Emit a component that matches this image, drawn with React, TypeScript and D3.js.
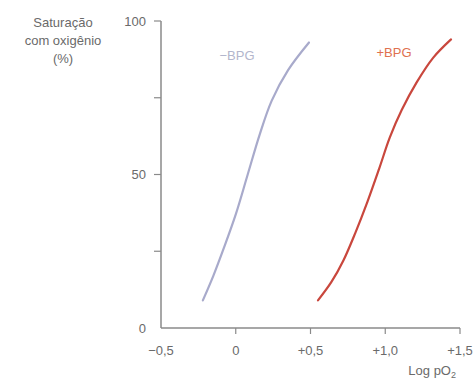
import React from 'react';
import * as d3 from 'd3';

const width = 473;
const height = 383;

// log pO2 vs % saturation
const noBpgLog = [-0.22, -0.15, -0.08, 0.0, 0.08, 0.16, 0.24, 0.35, 0.49];
const noBpgSat = [9, 17, 26, 37, 50, 63, 74, 84, 93];
const bpgLog = [0.55, 0.64, 0.72, 0.8, 0.88, 0.96, 1.03, 1.11, 1.21, 1.32, 1.44];
const bpgSat = [9, 15, 22, 31, 41, 52, 62, 71, 80, 88, 94];

const xTicks = [-0.5, 0, 0.5, 1.0, 1.5];
const xTickLabels = ['\u22120,5', '0', '+0,5', '+1,0', '+1,5'];
const yTicks = [0, 25, 50, 75, 100];
const yTickLabels = ['0', '', '50', '', '100'];
const yTitle = ['Saturação', 'com oxigênio', '(%)'];

const font = '"Liberation Sans", Arial, sans-serif';

export default function App() {
  const x = d3.scaleLinear().domain([-0.5, 1.5]).range([161, 460]);
  const y = d3.scaleLinear().domain([0, 100]).range([328, 21]);

  const line = d3.line<[number, number]>()
    .x(d => x(d[0]))
    .y(d => y(d[1]))
    .curve(d3.curveCatmullRom.alpha(0.5));

  const blue = noBpgLog.map((v, i) => [v, noBpgSat[i]] as [number, number]);
  const red = bpgLog.map((v, i) => [v, bpgSat[i]] as [number, number]);

  return (
    <svg width={width} height={height} style={{ position: 'absolute', left: 0, top: 0, background: '#fff' }}
      fontFamily={font}>
      {/* axes */}
      <line x1={x(-0.5)} x2={x(1.5)} y1={y(0)} y2={y(0)} stroke="#8a8a8a" strokeWidth={1.5} />
      <line x1={x(-0.5)} x2={x(-0.5)} y1={y(0)} y2={y(100)} stroke="#8a8a8a" strokeWidth={1.5} />

      {xTicks.map((t, i) => (
        <g key={'x' + i}>
          {i > 0 && <line x1={x(t)} x2={x(t)} y1={y(0)} y2={y(0) + 6} stroke="#8a8a8a" strokeWidth={1.2} />}
          <text x={x(t)} y={y(0) + 22} dy="0.35em" textAnchor="middle" fontSize={13} fill="#6a6a6a">{xTickLabels[i]}</text>
        </g>
      ))}

      {yTicks.map((t, i) => (
        <g key={'y' + i}>
          {i > 0 && <line x1={x(-0.5) - 7} x2={x(-0.5)} y1={y(t)} y2={y(t)} stroke="#8a8a8a" strokeWidth={1.2} />}
          <text x={x(-0.5) - 15} y={y(t)} dy="0.35em" textAnchor="end" fontSize={13} fill="#6a6a6a">{yTickLabels[i]}</text>
        </g>
      ))}

      <text x={x(1.5) - 4} y={375} textAnchor="end" fontSize={13} fill="#6a6a6a">
        Log pO<tspan fontSize={9} dy={3}>2</tspan>
      </text>

      {yTitle.map((s, i) => (
        <text key={s} x={63} y={22 + i * 18} dy="0.35em" textAnchor="middle" fontSize={13} fill="#6a6a6a">{s}</text>
      ))}

      <path d={line(blue) ?? ''} fill="none" stroke="#a8aacb" strokeWidth={2.2} strokeLinecap="round" />
      <path d={line(red) ?? ''} fill="none" stroke="#c9473d" strokeWidth={2.2} strokeLinecap="round" />

      <text x={237} y={55} dy="0.35em" textAnchor="middle" fontSize={13} fill="#b3b6cc">−BPG</text>
      <text x={394} y={52} dy="0.35em" textAnchor="middle" fontSize={13} fill="#e0704f">+BPG</text>
    </svg>
  );
}
